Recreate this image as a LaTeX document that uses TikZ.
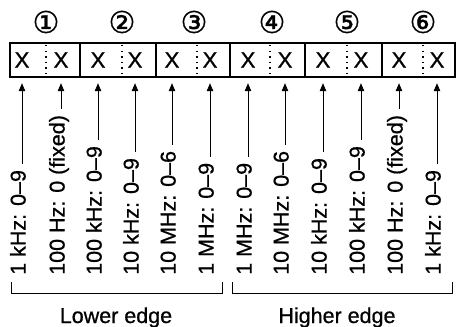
\documentclass[tikz,border=0pt]{standalone}
\usepackage{fontspec}
\setmainfont{Liberation Sans}
\newfontfamily\heavyfont[FakeBold=0.7]{Liberation Sans}
\newfontfamily\symfont[FakeBold=0.9]{DejaVu Sans}
\usetikzlibrary{arrows.meta}
\tikzset{
  lbl/.style={rotate=90, anchor=west, inner sep=0pt, text height=0.72em, text depth=0pt,
    font=\heavyfont\fontsize{21.5}{24}\selectfont},
  cell/.style={inner sep=0pt, minimum height=34pt, font=\heavyfont\fontsize{22.5}{24}\selectfont},
  num/.style={inner sep=0pt, font=\symfont\fontsize{30}{32}\selectfont},
  arr/.style={line width=0.9pt, -{Triangle[length=8pt,width=6.5pt]}, shorten <=6pt, shorten >=6pt},
  boxline/.style={line width=1.5pt},
  dotline/.style={line width=1.4pt, dash pattern=on 1.4pt off 4.2pt},
  brk/.style={line width=0.9pt},
  edge/.style={inner sep=0pt, anchor=base, font=\heavyfont\fontsize{21.5}{24}\selectfont}
}
\begin{document}
\begin{tikzpicture}[x=1pt,y=-1pt]
\useasboundingbox (0,0) rectangle (456,327);
% box
\draw[boxline] (10,43) rectangle (455,77);
\foreach \d in {80,156,230,305,382}{\draw[boxline] (\d,43) -- (\d,77);}
\foreach \d in {46,122,197,270,347,423}{\draw[dotline] (\d,45) -- (\d,77);}
% circled numbers
\node[num] (n1) at (46,22) {①};
\node[num] (n2) at (122,22) {②};
\node[num] (n3) at (194,22) {③};
\node[num] (n4) at (272,22) {④};
\node[num] (n5) at (347,22) {⑤};
\node[num] (n6) at (423,22) {⑥};
% cells
\node[cell] (c1) at (22,60) {X};
\node[cell] (c2) at (61,60) {X};
\node[cell] (c3) at (98,60) {X};
\node[cell] (c4) at (135,60) {X};
\node[cell] (c5) at (172,60) {X};
\node[cell] (c6) at (210,60) {X};
\node[cell] (c7) at (248,60) {X};
\node[cell] (c8) at (285,60) {X};
\node[cell] (c9) at (323,60) {X};
\node[cell] (c10) at (361,60) {X};
\node[cell] (c11) at (399,60) {X};
\node[cell] (c12) at (437,60) {X};
% labels
\node[lbl] (l1) at (22,275) {1 kHz: 0–9};
\node[lbl] (l2) at (61,275) {100 Hz: 0 (fixed)};
\node[lbl] (l3) at (98,275) {100 kHz: 0–9};
\node[lbl] (l4) at (135,275) {10 kHz: 0–9};
\node[lbl] (l5) at (172,275) {10 MHz: 0–6};
\node[lbl] (l6) at (210,275) {1 MHz: 0–9};
\node[lbl] (l7) at (248,275) {1 MHz: 0–9};
\node[lbl] (l8) at (285,275) {10 MHz: 0–6};
\node[lbl] (l9) at (323,275) {10 kHz: 0–9};
\node[lbl] (l10) at (361,275) {100 kHz: 0–9};
\node[lbl] (l11) at (399,275) {100 Hz: 0 (fixed)};
\node[lbl] (l12) at (437,275) {1 kHz: 0–9};
\foreach \i in {1,...,12}{\draw[arr] (l\i.east) -- (c\i.south);}
% brackets
\coordinate (b1a) at (11,282);
\coordinate (b1b) at (222,282);
\coordinate (b2a) at (232,282);
\coordinate (b2b) at (452,282);
\draw[brk] (b1a) -- ++(0,11) -| (b1b);
\draw[brk] (b2a) -- ++(0,11) -| (b2b);
\node[edge] (e1) at (116,323) {Lower edge};
\node[edge] (e2) at (337,323) {Higher edge};
\end{tikzpicture}
\end{document}
